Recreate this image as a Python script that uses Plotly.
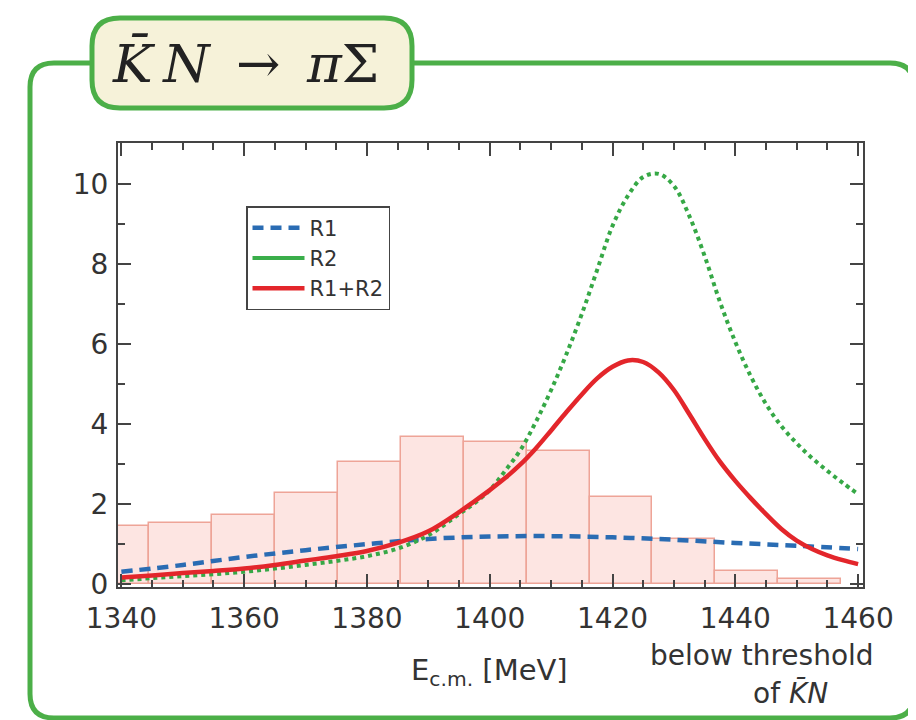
import plotly.graph_objects as go

# ---------------- data ----------------
bin_edges = [1334.25, 1344.5, 1354.75, 1365.0, 1375.25, 1385.5, 1395.75,
             1406.0, 1416.25, 1426.5, 1436.75, 1447.0, 1457.25]
bin_heights = [1.45, 1.53, 1.73, 2.27, 3.06, 3.68, 3.56, 3.33, 2.18, 1.14, 0.33, 0.13]

r1_x = [1340, 1350, 1360, 1370, 1380, 1390, 1400, 1410, 1420, 1430, 1440, 1450, 1460]
r1_y = [0.31, 0.48, 0.68, 0.85, 1.00, 1.13, 1.19, 1.20, 1.17, 1.11, 1.03, 0.96, 0.88]

r2_x = [1340, 1345, 1350, 1355, 1360, 1365, 1370, 1375, 1380, 1385, 1390,
        1395, 1397.5, 1400, 1402.5, 1405, 1407.5, 1410, 1412.5, 1415, 1417.5,
        1420, 1422.5, 1425, 1427.5, 1430, 1432.5, 1435, 1437.5, 1440, 1442.5,
        1445, 1447.5, 1450, 1452.5, 1455, 1457.5, 1460]
r2_y = [0.10, 0.15, 0.20, 0.25, 0.31, 0.39, 0.48, 0.58, 0.70, 0.89, 1.22,
        1.75, 2.02, 2.35, 2.83, 3.35, 4.05, 4.85, 5.75, 6.75, 7.85,
        8.95, 9.70, 10.17, 10.25, 9.95, 9.20, 8.20, 7.05, 6.05, 5.20,
        4.50, 3.95, 3.52, 3.15, 2.83, 2.53, 2.25]

r12_x = [1340, 1345, 1350, 1355, 1360, 1365, 1370, 1375, 1380, 1385, 1390,
         1395, 1397.5, 1400, 1402.5, 1405, 1407.5, 1410, 1412.5, 1415, 1417.5,
         1420, 1422.5, 1425, 1427.5, 1430, 1432.5, 1435, 1437.5, 1440, 1442.5,
         1445, 1447.5, 1450, 1452.5, 1455, 1457.5, 1460]
r12_y = [0.17, 0.22, 0.28, 0.33, 0.39, 0.48, 0.59, 0.70, 0.83, 1.03, 1.32,
         1.80, 2.07, 2.35, 2.65, 2.99, 3.39, 3.84, 4.30, 4.74, 5.14,
         5.43, 5.59, 5.55, 5.29, 4.85, 4.25, 3.63, 3.06, 2.58, 2.15,
         1.75, 1.38, 1.09, 0.88, 0.72, 0.60, 0.50]

series_names = ["R1", "R2", "R1+R2"]
x_ticks = [1340, 1360, 1380, 1400, 1420, 1440, 1460]
y_ticks = [0, 2, 4, 6, 8, 10]

# ---------------- figure ----------------
W, H = 916, 720
OFF = 8  # page body margin
L, R, T, B = 110, 61, 135, 141
PW, PH = W - L - R, H - T - B

def px(xp):
    return (xp - OFF - L) / PW

def py(yp):
    return (H - B - (yp - OFF)) / PH

centers = [(a + b) / 2 for a, b in zip(bin_edges[:-1], bin_edges[1:])]
widths = [b - a for a, b in zip(bin_edges[:-1], bin_edges[1:])]

fig = go.Figure()
fig.add_trace(go.Bar(x=centers, y=bin_heights, width=widths, showlegend=False,
                     marker=dict(color="#fde5e2", line=dict(color="#eea497", width=1.5))))
fig.add_trace(go.Scatter(x=r1_x, y=r1_y, mode="lines", name=series_names[0], line_shape="spline",
                         line=dict(color="#2a6cb3", width=4.5, dash="11px,7px")))
fig.add_trace(go.Scatter(x=r2_x, y=r2_y, mode="lines", name=series_names[1], showlegend=False,
                         line_shape="spline", line=dict(color="#36a846", width=4, dash="dot")))
# legend entry for R2 is drawn solid in the reference
fig.add_trace(go.Scatter(x=[None], y=[None], mode="lines", name=series_names[1],
                         line=dict(color="#3aae4a", width=4)))
fig.add_trace(go.Scatter(x=r12_x, y=r12_y, mode="lines", name=series_names[2], line_shape="spline",
                         line=dict(color="#e3262b", width=4.5)))

axis_common = dict(showline=True, linecolor="#444", linewidth=2, mirror="ticks",
                   ticks="inside", ticklen=13, tickwidth=1.5, tickcolor="#444",
                   showgrid=False, zeroline=False,
                   tickfont=dict(family="DejaVu Sans", size=28, color="#333"))

fig.update_xaxes(range=[1339.45, 1460.8], tickvals=x_ticks, ticklabelstandoff=5,
                 minor=dict(dtick=5, ticks="inside", ticklen=7, tickwidth=1.5, tickcolor="#444"),
                 **axis_common)
fig.update_yaxes(range=[-0.07, 11.02], tickvals=y_ticks, ticklabelstandoff=2,
                 minor=dict(dtick=1, ticks="inside", ticklen=7, tickwidth=1.5, tickcolor="#444"),
                 **axis_common)

shapes = []
# outer green frame (rounded rectangle, partly outside the canvas)
fl, ft, fr, fb, rad = 30, 63, 914, 718, 24
frame_path = (f"M {px(fl)},{py(fb - rad)} L {px(fl)},{py(ft + rad)} "
              f"Q {px(fl)},{py(ft)} {px(fl + rad)},{py(ft)} "
              f"L {px(fr - rad)},{py(ft)} Q {px(fr)},{py(ft)} {px(fr)},{py(ft + rad)} "
              f"L {px(fr)},{py(fb - rad)} Q {px(fr)},{py(fb)} {px(fr - rad)},{py(fb)} "
              f"L {px(fl + rad)},{py(fb)} Q {px(fl)},{py(fb)} {px(fl)},{py(fb - rad)} Z")
shapes.append(dict(type="path", xref="paper", yref="paper", path=frame_path,
                   line=dict(color="#4caf48", width=5), fillcolor="rgba(0,0,0,0)"))
# title box
bl, bt, br, bb, br_ = 92, 18, 412, 108, 28
box_path = (f"M {px(bl)},{py(bb - br_)} L {px(bl)},{py(bt + br_)} "
            f"Q {px(bl)},{py(bt)} {px(bl + br_)},{py(bt)} "
            f"L {px(br - br_)},{py(bt)} Q {px(br)},{py(bt)} {px(br)},{py(bt + br_)} "
            f"L {px(br)},{py(bb - br_)} Q {px(br)},{py(bb)} {px(br - br_)},{py(bb)} "
            f"L {px(bl + br_)},{py(bb)} Q {px(bl)},{py(bb)} {px(bl)},{py(bb - br_)} Z")
shapes.append(dict(type="path", xref="paper", yref="paper", path=box_path,
                   line=dict(color="#4caf48", width=5), fillcolor="#f6f2d9"))

annotations = [
    dict(x=px(245), y=py(63), xref="paper", yref="paper", showarrow=False,
         text="<i>K\u0304\u2009N</i>\u2002\u2192\u2002<i>\u03c0</i>\u03a3",
         font=dict(family="DejaVu Serif", size=53, color="#222"),
         xanchor="center", yanchor="middle"),
    dict(x=px(489), y=py(672), xref="paper", yref="paper", showarrow=False,
         text="E<sub>c.m.</sub> [MeV]",
         font=dict(family="DejaVu Sans", size=29, color="#333"),
         xanchor="center", yanchor="middle"),
    dict(x=px(762), y=py(655), xref="paper", yref="paper", showarrow=False,
         text="below threshold",
         font=dict(family="DejaVu Sans", size=28, color="#333"),
         xanchor="center", yanchor="middle"),
    dict(x=px(790), y=py(693), xref="paper", yref="paper", showarrow=False,
         text="of <i>K\u0304N</i>",
         font=dict(family="DejaVu Sans", size=28, color="#333"),
         xanchor="center", yanchor="middle"),
]

fig.update_layout(
    width=W, height=H, margin=dict(l=L, r=R, t=T, b=B, autoexpand=False),
    paper_bgcolor="white", plot_bgcolor="white", bargap=0,
    shapes=shapes, annotations=annotations,
    legend=dict(x=px(246), y=py(206), xanchor="left", yanchor="top",
                bgcolor="white", bordercolor="#444", borderwidth=1.5,
                font=dict(family="DejaVu Sans", size=21, color="#333"),
                itemwidth=52, tracegroupgap=0),
)

fig.write_html("out.html")
